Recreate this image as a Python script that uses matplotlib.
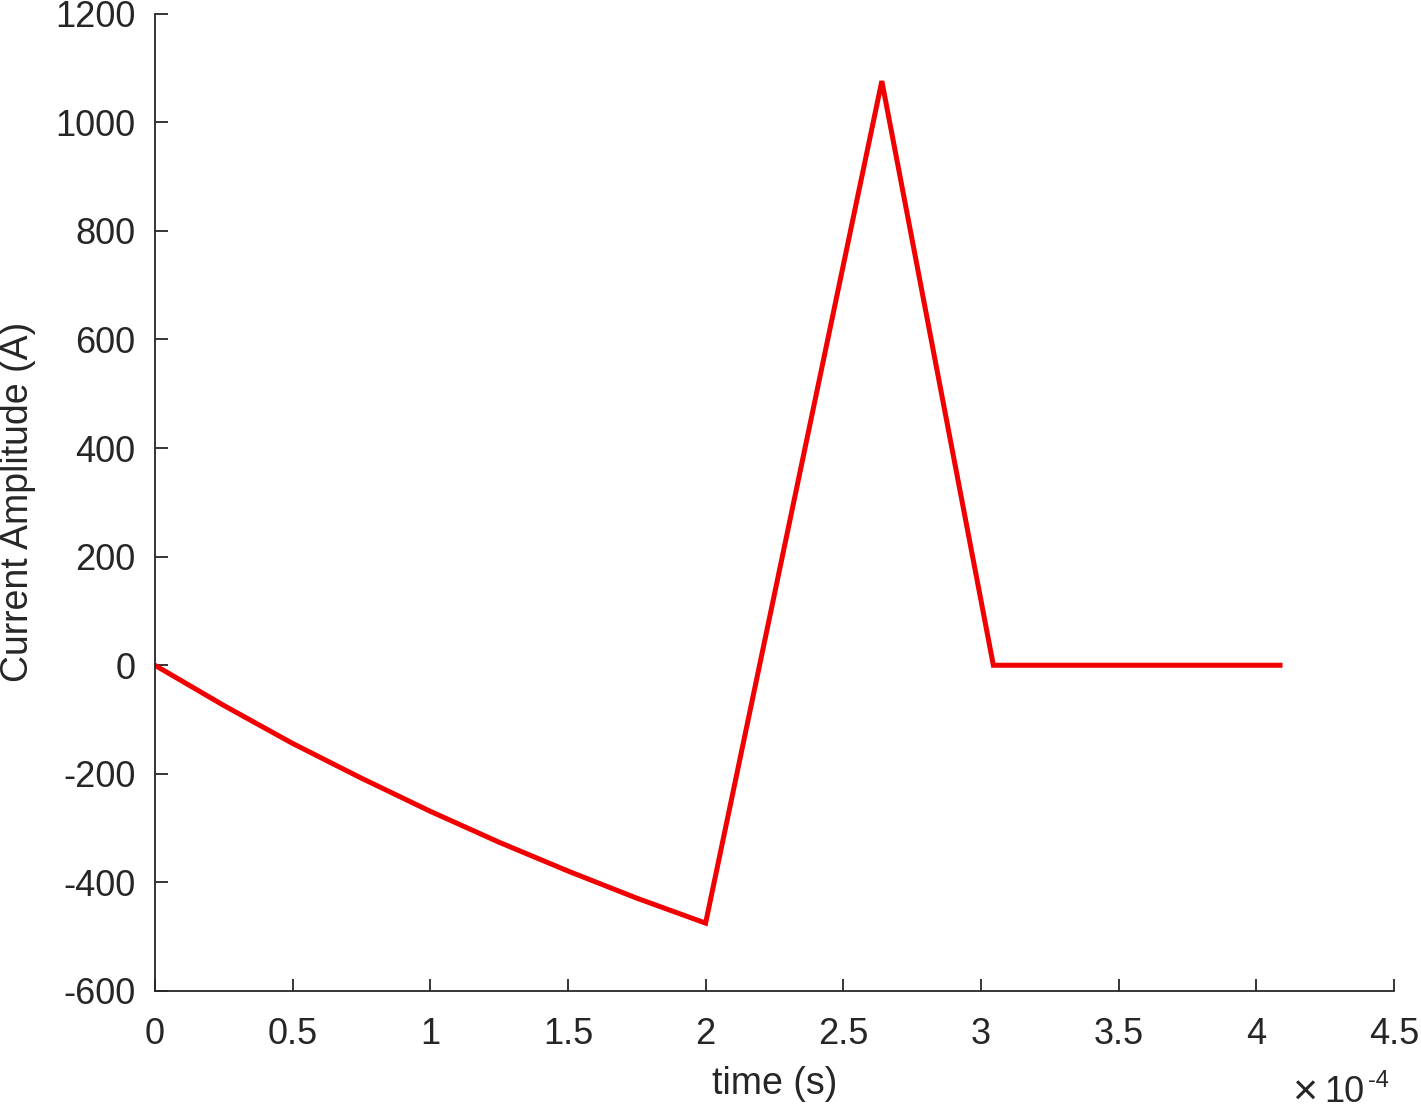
import matplotlib
matplotlib.use('Agg')
import matplotlib.pyplot as plt
from matplotlib.ticker import FuncFormatter

plt.rcParams['font.family'] = ['Liberation Sans', 'DejaVu Sans']
plt.rcParams['axes.unicode_minus'] = False

# time points (s) and current (A)
time_s = [0, 0.25e-4, 0.5e-4, 0.75e-4, 1.0e-4, 1.25e-4, 1.5e-4, 1.75e-4, 2.0e-4,
          2.64e-4, 3.045e-4, 4.086e-4]
current_a = [0, -74, -144, -208, -269, -326, -379, -429, -475,
             1076, 0, 0]

grey = '#262626'

fig = plt.figure(figsize=(14.21, 11.08), dpi=100)
ax = fig.add_axes([0.109, 0.1056, 0.872, 0.882])

ax.plot(time_s, current_a, color='#f00000', linewidth=3.6, solid_joinstyle='miter')

ax.set_xlim(0, 4.5e-4)
ax.set_ylim(-600, 1200)
ax.set_xticks([i * 0.5e-4 for i in range(10)])
ax.set_yticks(range(-600, 1201, 200))

# MATLAB-style x labels: scaled by 1e4, exponent shown separately
ax.xaxis.set_major_formatter(FuncFormatter(lambda v, pos: '%g' % round(v * 1e4, 4)))

ax.spines['top'].set_visible(False)
ax.spines['right'].set_visible(False)
for s in ['left', 'bottom']:
    ax.spines[s].set_color(grey)
    ax.spines[s].set_linewidth(1.3)

ax.tick_params(direction='in', length=9, width=1.3, colors=grey, labelsize=26, pad=14)
ax.tick_params(axis='x', pad=19)

ax.set_xlabel('time (s)', fontsize=27, color=grey, labelpad=10)
ax.set_ylabel('Current Amplitude (A)', fontsize=27, color=grey, labelpad=14)

# exponent label below the right end of the x axis
ax.text(0.9758, -0.1135, '10', transform=ax.transAxes, fontsize=26,
        color=grey, ha='right', va='baseline')
ax.text(0.9382, -0.1050, '\u00d7', transform=ax.transAxes, fontsize=31,
        color=grey, ha='right', va='center', fontweight='light')
ax.text(0.9790, -0.0985, '-4', transform=ax.transAxes, fontsize=17,
        color=grey, ha='left', va='baseline')

fig.savefig('out.png', dpi=100)
